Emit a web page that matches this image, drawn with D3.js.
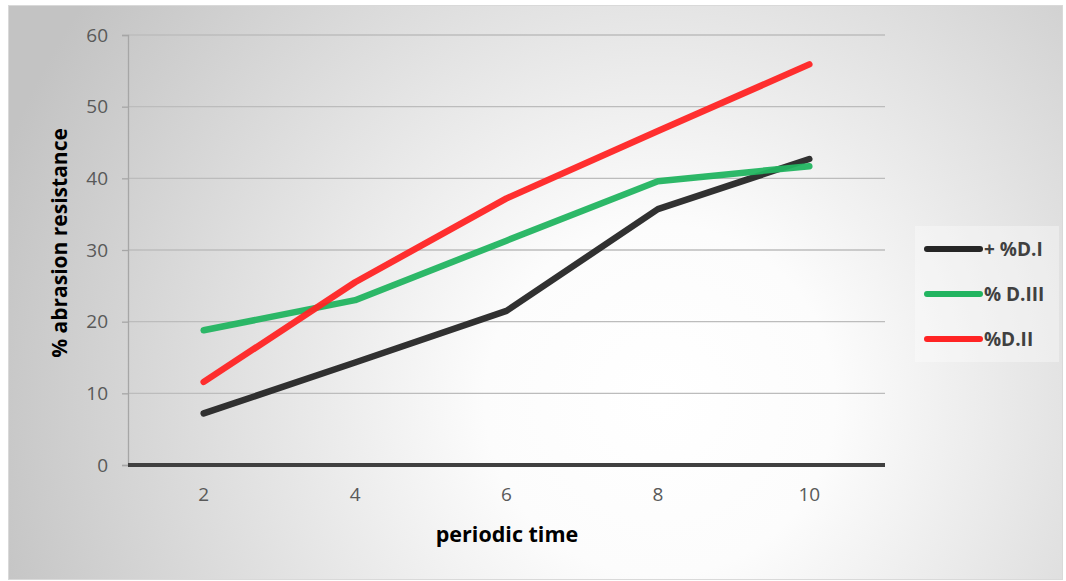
<!DOCTYPE html>
<html><head><meta charset="utf-8">
<script src="https://cdn.jsdelivr.net/npm/d3@7"></script>
<style>body{margin:0;background:#fff;}svg{display:block;font-family:"Open Sans",sans-serif;}</style>
</head><body><svg id="c" width="1066" height="581"></svg>
<script>
const categories = [2, 4, 6, 8, 10];
const seriesNames = ["+ %D.I", "% D.III", "%D.II"];
const seriesColors = ["#262626", "#22b460", "#ff2424"];
const valuesDI = [7.2, 14.3, 21.5, 35.7, 42.7];
const valuesDIII = [18.8, 23.0, 31.3, 39.6, 41.7];
const valuesDII = [11.6, 25.5, 37.2, 46.6, 55.9];
const yTicks = [0, 10, 20, 30, 40, 50, 60];

const series = [valuesDI, valuesDIII, valuesDII];
const svg = d3.select("#c");
const defs = svg.append("defs");
const rg = defs.append("radialGradient").attr("id","bg").attr("gradientUnits","userSpaceOnUse")
  .attr("cx",660).attr("cy",400).attr("r",700);
rg.append("stop").attr("offset","0").attr("stop-color","#ffffff");
rg.append("stop").attr("offset","0.25").attr("stop-color","#fcfcfc");
rg.append("stop").attr("offset","1").attr("stop-color","#c3c3c3");

svg.append("rect").attr("x",8.5).attr("y",5.5).attr("width",1054).attr("height",574)
  .attr("fill","url(#bg)").attr("stroke","#d9d9d9").attr("stroke-width",1);

const L = 128, R = 885, T = 35, B = 465;
const x = d3.scaleBand().domain(categories).range([L, R]);
const y = d3.scaleLinear().domain([0, 60]).range([B, T]);

// gridlines
svg.append("g").selectAll("line").data(yTicks.filter(d=>d>0)).join("line")
  .attr("x1",L).attr("x2",R).attr("y1",d=>y(d)).attr("y2",d=>y(d))
  .attr("stroke","#bcbcbc").attr("stroke-width",1.3);

// y axis
const ya = svg.append("g").attr("transform",`translate(${L},0)`)
  .call(d3.axisLeft(y).tickValues(yTicks).tickSize(6).tickPadding(14));
ya.select(".domain").attr("stroke","#a6a6a6").attr("stroke-width",1.3);
ya.selectAll(".tick line").attr("stroke","#a6a6a6").attr("stroke-width",1.3);
ya.selectAll("text").attr("fill","#595959").style("font-size","19px").style("font-family","Open Sans");

// x axis
const xa = svg.append("g").attr("transform",`translate(0,${B})`)
  .call(d3.axisBottom(x).tickSize(0).tickPadding(23));
xa.select(".domain").remove();
xa.selectAll("text").attr("fill","#595959").style("font-size","19px").style("font-family","Open Sans");
svg.append("line").attr("x1",L).attr("x2",R).attr("y1",B).attr("y2",B)
  .attr("stroke","#404040").attr("stroke-width",4);

// lines
const line = d3.line().x((d,i)=>x(categories[i])+x.bandwidth()/2).y(d=>y(d));
series.forEach((s,k)=>{
  svg.append("path").datum(s).attr("d",line).attr("fill","none")
    .attr("stroke",seriesColors[k]).attr("stroke-width",6.5).attr("stroke-opacity",0.95)
    .attr("stroke-linecap","round").attr("stroke-linejoin","round");
});

// axis titles
svg.append("text").attr("transform","translate(67,243) rotate(-90)").attr("text-anchor","middle")
  .attr("fill","#000").style("font-size","21px").style("font-weight","bold").text("% abrasion resistance");
svg.append("text").attr("x",507).attr("y",542).attr("text-anchor","middle")
  .attr("fill","#000").style("font-size","21.5px").style("font-weight","bold").text("periodic time");

// legend
const lg = svg.append("g");
lg.append("rect").attr("x",915).attr("y",226).attr("width",144).attr("height",136)
  .attr("fill","#ffffff").attr("fill-opacity",0.35);
seriesNames.forEach((n,k)=>{
  const yy = 249 + k*45;
  lg.append("line").attr("x1",927).attr("x2",980).attr("y1",yy).attr("y2",yy)
    .attr("stroke",seriesColors[k]).attr("stroke-width",6).attr("stroke-linecap","round");
  lg.append("text").attr("x",984).attr("y",yy+7).attr("fill","#404040")
    .style("font-size","19px").style("font-weight","bold").text(n);
});
</script></body></html>
